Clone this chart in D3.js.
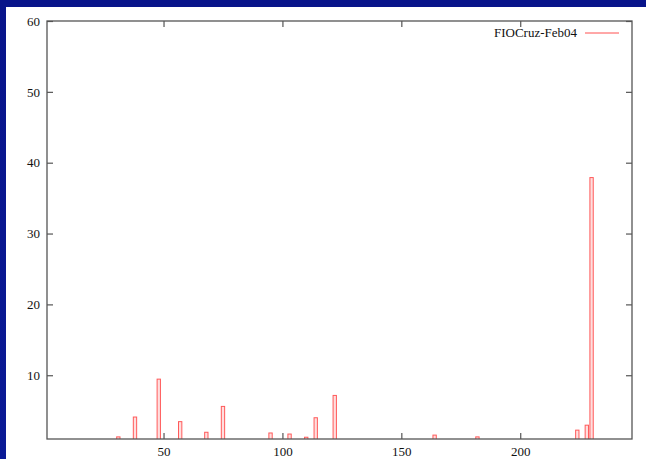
<!DOCTYPE html>
<html><head><meta charset="utf-8">
<script src="https://cdn.jsdelivr.net/npm/d3@7/dist/d3.min.js"></script>
<style>body{margin:0;background:#0b1a8c;}svg{display:block;}</style>
</head><body>
<script>
const seriesName = "FIOCruz-Feb04";
const xs = [31, 38, 48, 57, 68, 75, 95, 103, 110, 114, 122, 164, 182, 224, 228, 230];
const ys = [1.3, 4.1, 9.45, 3.45, 1.95, 5.6, 1.85, 1.7, 1.25, 4.0, 7.15, 1.55, 1.3, 2.25, 2.95, 37.9];
const xTicks = [50, 100, 150, 200];
const yTicks = [10, 20, 30, 40, 50, 60];
const boxWidth = 1.4;

const W = 646, H = 459;
const svg = d3.select("body").append("svg").attr("width", W).attr("height", H);
const defs = svg.append("defs");
const grad = defs.append("linearGradient").attr("id","bg").attr("x1",0).attr("y1",0).attr("x2",0).attr("y2",1);
grad.append("stop").attr("offset","0%").attr("stop-color","#08148a");
grad.append("stop").attr("offset","100%").attr("stop-color","#0a1a96");
svg.append("rect").attr("width",W).attr("height",H).attr("fill","url(#bg)");
svg.append("rect").attr("x",6).attr("y",7).attr("width",W-6).attr("height",H-7).attr("fill","#fff");

const L = 47, R = 632, T = 21, B = 439;
const x = d3.scaleLinear().domain([1, 247]).range([L, R]);
const y = d3.scaleLinear().domain([1, 60]).range([B, T]);

defs.append("clipPath").attr("id","clip")
  .append("rect").attr("x",L).attr("y",T).attr("width",R-L).attr("height",B-T);

const g = svg.append("g").attr("clip-path","url(#clip)");
g.selectAll("rect.bar").data(xs.map((d,i)=>({x:d,y:ys[i]}))).enter().append("rect")
  .attr("class","bar")
  .attr("x", d => x(d.x - boxWidth/2))
  .attr("width", d => x(d.x + boxWidth/2) - x(d.x - boxWidth/2))
  .attr("y", d => y(d.y))
  .attr("height", d => B + 5 - y(d.y))
  .attr("fill","rgba(255,90,90,0.2)")
  .attr("stroke","#ff5a5a").attr("stroke-width",1);

const axisColor = "#555";
const font = "'Liberation Serif', 'DejaVu Serif', serif";
const tl = 6;
const xb = svg.append("g").attr("transform",`translate(0,${B})`)
  .call(d3.axisBottom(x).tickValues(xTicks).tickSize(-tl).tickPadding(8).tickFormat(d3.format("d")));
const xt = svg.append("g").attr("transform",`translate(0,${T})`)
  .call(d3.axisTop(x).tickValues(xTicks).tickSize(-tl).tickFormat(""));
const yl = svg.append("g").attr("transform",`translate(${L},0)`)
  .call(d3.axisLeft(y).tickValues(yTicks).tickSize(-tl).tickPadding(7).tickFormat(d3.format("d")));
const yr = svg.append("g").attr("transform",`translate(${R},0)`)
  .call(d3.axisRight(y).tickValues(yTicks).tickSize(-tl).tickFormat(""));
[xb,xt,yl,yr].forEach(a=>{
  a.select(".domain").remove();
  a.selectAll("line").attr("stroke",axisColor).attr("stroke-width",1.2);
  a.selectAll("text").attr("fill","#111").style("font-family",font).style("font-size","13px");
});
svg.append("rect").attr("x",L).attr("y",T).attr("width",R-L).attr("height",B-T)
  .attr("fill","none").attr("stroke",axisColor).attr("stroke-width",1.3);

svg.append("text").attr("x",577).attr("y",37).attr("text-anchor","end")
  .style("font-family",font).style("font-size","13px").attr("fill","#111").text(seriesName);
svg.append("line").attr("x1",585).attr("x2",619).attr("y1",33).attr("y2",33)
  .attr("stroke","#ff5050").attr("stroke-width",1);
</script>
</body></html>
